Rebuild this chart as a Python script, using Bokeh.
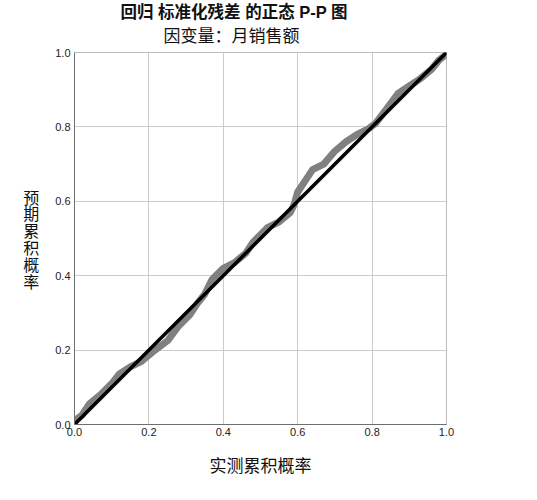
from bokeh.plotting import figure
from bokeh.models import Title, FixedTicker, CustomJSTickFormatter
from bokeh.embed import file_html
from bokeh.resources import INLINE

# Observed cumulative probability (x) and expected cumulative probability (y)
observed = [0.00, 0.02, 0.04, 0.07, 0.10, 0.12, 0.15, 0.18, 0.21, 0.25, 0.28, 0.31, 0.33,
            0.35, 0.37, 0.40, 0.43, 0.46, 0.48, 0.50, 0.52, 0.55, 0.58, 0.59, 0.60, 0.62,
            0.64, 0.67, 0.70, 0.73, 0.76, 0.79, 0.81, 0.84, 0.87, 0.90, 0.93, 0.96, 0.98, 1.00]
expected = [0.01, 0.025, 0.055, 0.08, 0.11, 0.135, 0.155, 0.17, 0.195, 0.225, 0.265, 0.295, 0.325,
            0.35, 0.39, 0.42, 0.435, 0.46, 0.49, 0.51, 0.53, 0.545, 0.57, 0.59, 0.625, 0.655,
            0.685, 0.70, 0.735, 0.76, 0.78, 0.795, 0.81, 0.85, 0.89, 0.91, 0.93, 0.955, 0.98, 0.995]
ref_x = [0.0, 1.0]
ref_y = [0.0, 1.0]
ticks = [0.0, 0.2, 0.4, 0.6, 0.8, 1.0]

title1 = "回归 标准化残差 的正态 P-P 图"
title2 = "因变量：月销售额"
xlabel = "实测累积概率"
ylabel = "预期累积概率"

TITLE_FONT = "Liberation Sans, Noto Sans CJK SC"

p = figure(width=468, height=488, output_backend="svg", toolbar_location=None,
           x_range=(0, 1), y_range=(0, 1),
           min_border_left=74, min_border_right=22, min_border_top=52, min_border_bottom=64)
p.outline_line_color = "#bdbdbd"
p.outline_line_width = 1
p.background_fill_color = "white"
p.border_fill_color = "white"

for ax in (p.xaxis[0], p.yaxis[0]):
    ax.ticker = FixedTicker(ticks=ticks)
    ax.formatter = CustomJSTickFormatter(code="return tick.toFixed(1);")
    ax.major_tick_out = 0
    ax.major_tick_in = 0
    ax.minor_tick_out = 0
    ax.minor_tick_in = 0
    ax.axis_line_color = "#6e6e6e"
    ax.axis_line_width = 1
    ax.major_label_text_font = "Liberation Sans"
    ax.major_label_text_font_size = "11px"
    ax.major_label_text_color = "#222222"
    ax.axis_label_text_font = "Noto Sans CJK SC"
    ax.axis_label_text_font_style = "normal"
    ax.axis_label_text_font_size = "17px"
    ax.axis_label_text_color = "#111111"

p.xaxis.major_label_standoff = 3
p.yaxis.major_label_standoff = 4
p.xaxis.axis_label = xlabel
p.xaxis.axis_label_standoff = 13

p.yaxis.axis_label = "\n".join(ylabel)
p.yaxis.axis_label_orientation = "horizontal"
p.yaxis.axis_label_standoff = 13
p.yaxis.axis_label_text_font_size = "16px"
p.yaxis.axis_label_text_line_height = 0.70

p.grid.grid_line_color = "#cccccc"
p.grid.grid_line_width = 1
p.xgrid.ticker = FixedTicker(ticks=ticks)
p.ygrid.ticker = FixedTicker(ticks=ticks)

p.line(observed, expected, line_color="#808080", line_width=7, line_cap="round", line_join="round")
p.line(ref_x, ref_y, line_color="black", line_width=3.5)

p.add_layout(Title(text=title2, align="left", offset=89, text_font=TITLE_FONT,
                   text_font_style="normal", text_font_size="17px", text_color="#111111",
                   vertical_align="top", standoff=9), "above")
p.add_layout(Title(text=title1, align="left", offset=46, text_font=TITLE_FONT,
                   text_font_style="bold", text_font_size="16.5px", text_color="#111111",
                   vertical_align="top", standoff=0), "above")

open("out.html", "w").write(file_html(p, INLINE))
